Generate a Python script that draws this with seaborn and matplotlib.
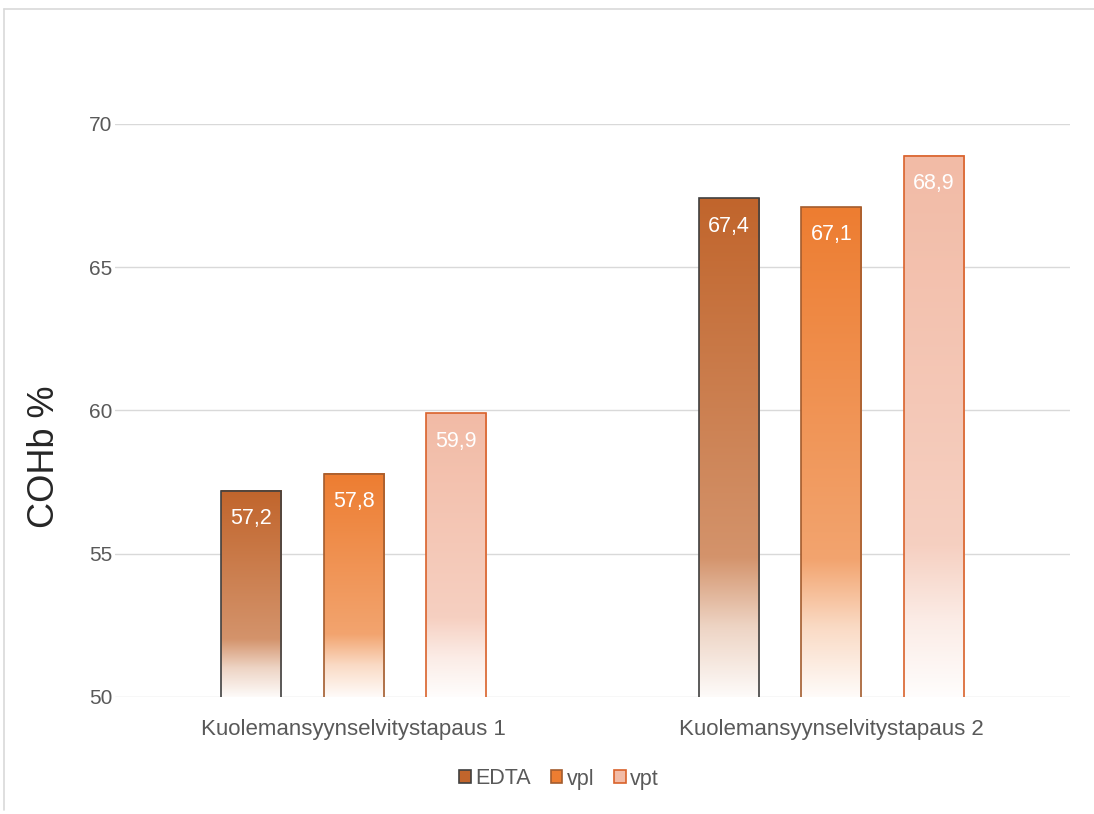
import numpy as np
import pandas as pd
import matplotlib
matplotlib.use("Agg")
import matplotlib.pyplot as plt
import seaborn as sns
from matplotlib.colors import to_rgb
from matplotlib.lines import Line2D
from matplotlib.patches import Patch

# Data
categories = ["Kuolemansyynselvitystapaus 1", "Kuolemansyynselvitystapaus 2"]
series = ["EDTA", "vpl", "vpt"]
edta = [57.2, 67.4]
vpl = [57.8, 67.1]
vpt = [59.9, 68.9]
y_ticks = [50, 55, 60, 65, 70]
y_label = "COHb %"

# Styling
top_colors = {"EDTA": "#C1652C", "vpl": "#ED7D31", "vpt": "#F2BBA6"}
edge_colors = {"EDTA": "#404040", "vpl": "#A35C2E", "vpt": "#D9622B"}
grid_color = "#D9D9D9"
text_color = "#595959"

sns.set_theme(style="white")
plt.rcParams["font.family"] = ["Liberation Sans", "DejaVu Sans"]

values = {"EDTA": edta, "vpl": vpl, "vpt": vpt}
df = pd.concat(
    [pd.DataFrame({"case": categories, "sample": s, "cohb": values[s]}) for s in series],
    ignore_index=True,
)

fig = plt.figure(figsize=(10.94, 8.14), dpi=100)
ax = fig.add_axes([115 / 1094, 117 / 814, 955 / 1094, 573 / 814])

sns.barplot(
    data=df, x="case", y="cohb", hue="sample", hue_order=series, order=categories,
    width=0.644, gap=0.41, palette=top_colors, legend=False, ax=ax, zorder=3,
)

ymin, ymax = y_ticks[0], y_ticks[-1]


def gradient_rgba(color, n=256):
    """Vertical fill: solid colour at the top, fading to near-white at the base."""
    t = np.linspace(0, 1, n)
    mix = np.interp(t, [0.0, 0.72, 0.86, 1.0], [0.0, 0.30, 0.72, 0.97])
    c = np.array(to_rgb(color))
    rgb = c[None, :] * (1 - mix[:, None]) + mix[:, None]
    return rgb[:, None, :]


for container, name in zip(ax.containers, series):
    grad = gradient_rgba(top_colors[name])
    for bar in container:
        x0, w, h = bar.get_x(), bar.get_width(), bar.get_height()
        bar.set_facecolor("none")
        bar.set_edgecolor(edge_colors[name])
        bar.set_linewidth(1.2)
        bar.set_zorder(4)
        ax.imshow(grad, extent=(x0, x0 + w, ymin, h), origin="upper",
                  aspect="auto", zorder=3, interpolation="bilinear")
        ax.annotate(f"{h:.1f}".replace(".", ","), xy=(x0 + w / 2, h),
                    xytext=(0, -20), textcoords="offset points",
                    ha="center", va="center", color="white", fontsize=15.5, zorder=5)

ax.set_xlim(-0.5, 1.5)
ax.set_ylim(ymin, ymax)
ax.set_yticks(y_ticks)
ax.yaxis.grid(True, color=grid_color, linewidth=1)
ax.xaxis.grid(False)
for sp in ax.spines.values():
    sp.set_visible(False)
ax.tick_params(axis="both", length=0, colors=text_color)
ax.tick_params(axis="y", pad=2, labelsize=15)
ax.tick_params(axis="x", pad=16, labelsize=16)
ax.set_xlabel("")
ax.set_ylabel(y_label, fontsize=26, color="#262626")
ax.yaxis.set_label_coords(-0.056, 0.42)

handles = [Patch(facecolor=top_colors[s], edgecolor=edge_colors[s], linewidth=1.2, label=s)
           for s in series]
fig.legend(handles=handles, loc="center", bbox_to_anchor=(559 / 1094, 1 - 779 / 814),
           ncol=3, frameon=False, fontsize=15.5, handlelength=0.55, handleheight=0.55,
           handletextpad=0.2, columnspacing=0.9, labelcolor=text_color)

# Outer chart frame (top and left edges)
fig.add_artist(Line2D([4 / 1094, 1], [1 - 9 / 814, 1 - 9 / 814], color=grid_color,
                      linewidth=1.2, transform=fig.transFigure))
fig.add_artist(Line2D([4 / 1094, 4 / 1094], [1 - 9 / 814, 0.005], color=grid_color,
                      linewidth=1.2, transform=fig.transFigure))

fig.savefig("out.png", dpi=100, facecolor="white")
